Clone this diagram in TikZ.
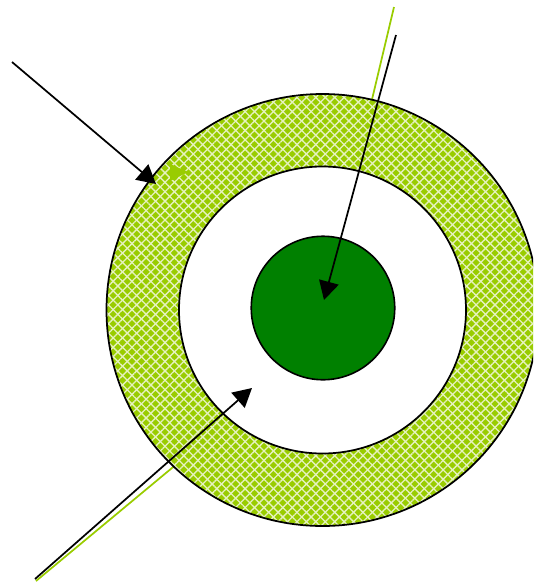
\documentclass[tikz,border=0pt]{standalone}
\usetikzlibrary{arrows.meta,patterns.meta}
\definecolor{ygreen}{HTML}{99CC00}
\definecolor{dgreen}{HTML}{008000}
\tikzset{
  ray/.style={line width=1.3pt,black,-{Triangle[length=14pt,width=15pt]}},
  gray/.style={line width=1.3pt,ygreen},
  outl/.style={line width=1.3pt,black}
}
\begin{document}
\begin{tikzpicture}[x=0.75pt,y=-0.75pt]
\useasboundingbox (0,0) rectangle (533,583);
\clip (0,0) rectangle (533,583);
% green lines (behind ring)
\coordinate (g1a) at (394,7);
\coordinate (g1b) at (360,150);
\coordinate (g2a) at (36,581);
\coordinate (g2b) at (190,453);
\draw[gray] (g1a) -- (g1b);
\draw[gray] (g2a) -- (g2b);
% ring
\coordinate (c) at (322.5,310);
\fill[ygreen,even odd rule] (c) circle[radius=216] (c) circle[radius=143.5];
\fill[pattern={Lines[angle=45,distance=5pt,line width=1pt]},pattern color=white!75!ygreen,even odd rule] (c) circle[radius=216] (c) circle[radius=143.5];
\fill[pattern={Lines[angle=-45,distance=5pt,line width=1pt]},pattern color=white!75!ygreen,even odd rule] (c) circle[radius=216] (c) circle[radius=143.5];
\draw[outl] (c) circle[radius=216];
\draw[outl] (c) circle[radius=143.5];
% core
\node[circle,draw=black,line width=1.2pt,fill=dgreen,minimum size=143.5*0.75pt,inner sep=0pt] (core) at (323,308) {};
% green arrowhead
\fill[ygreen] (188,172) -- (170,164) -- (170,181) -- cycle;
% black rays
\coordinate (a1) at (12,62);
\coordinate (a1t) at (156,184);
\coordinate (a2) at (396,35);
\coordinate (a2t) at (324,300);
\coordinate (a3) at (35,579);
\coordinate (a3t) at (252,388);
\draw[ray] (a1) -- (a1t);
\draw[ray] (a2) -- (a2t);
\draw[ray] (a3) -- (a3t);
\end{tikzpicture}
\end{document}
